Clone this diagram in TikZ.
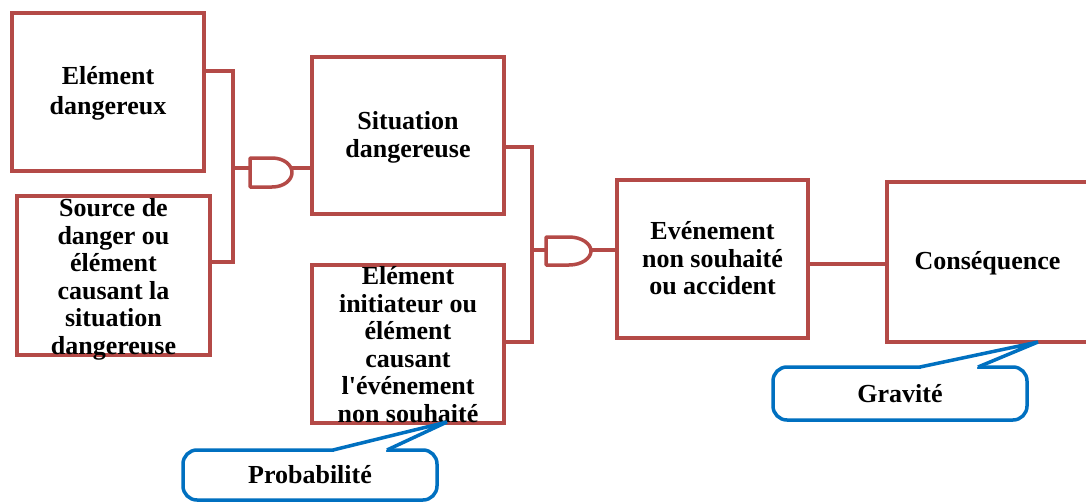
\documentclass[tikz,border=0pt]{standalone}
\usepackage{fontspec}
\setmainfont{Liberation Serif}[Ligatures=TeXOff]
\definecolor{boxred}{RGB}{180,74,71}
\definecolor{callblue}{RGB}{0,112,192}
\begin{document}
\begin{tikzpicture}[x=1pt,y=-1pt,
  box/.style={draw=boxred, line width=4pt, fill=white, inner sep=0pt},
  txt/.style={inner sep=0pt, align=center, text=black, font=\bfseries\fontsize{26}{27.5}\selectfont},
  conn/.style={draw=boxred, line width=3.5pt},
  gate/.style={draw=boxred, line width=3.5pt, fill=white, line join=round},
  callbox/.style={draw=callblue, line width=3.5pt, fill=white, rounded corners=14pt, inner sep=0pt, text=black, font=\bfseries\fontsize{26}{27.5}\selectfont},
  wedge/.style={draw=callblue, line width=3.5pt, line join=miter}]
\useasboundingbox (0,0) rectangle (1086,503);
\clip (0,0) rectangle (1086,503);
\fill[white] (0,0) rectangle (1086,503);
% boxes
\node[box, minimum width=192pt, minimum height=158pt] (b1) at (108,92) {};
\node[txt, font=\bfseries\fontsize{26}{30}\selectfont] (t1) at (108,93.5) {Elément\\dangereux};
\node[box, minimum width=193pt, minimum height=159pt] (b2) at (113.5,275.5) {};
\node[txt] (t2) at (113.5,279.5) {Source de\\danger ou\\élément\\causant la\\situation\\dangereuse};
\node[box, minimum width=192pt, minimum height=157pt] (b3) at (408,135.5) {};
\node[txt] (t3) at (408,137.5) {Situation\\dangereuse};
\node[box, minimum width=192pt, minimum height=158pt] (b4) at (408,344) {};
\node[txt] (t4) at (408,344.5) {Elément\\initiateur ou\\élément\\causant\\l'événement\\non souhaité};
\node[box, minimum width=191pt, minimum height=158pt] (b5) at (712.5,259) {};
\node[txt] (t5) at (712.5,258.5) {Evénement\\non souhaité\\ou accident};
\node[box, minimum width=205pt, minimum height=160pt] (b6) at (989.5,262) {};
\node[txt] (t6) at (987.5,263) {Conséquence};
% gate 1
\coordinate (g1in) at (250,168);
\coordinate (g1out) at (291,168);
\draw[gate] (250,158) -- (272,158) .. controls (284,158) and (292,165) .. (292,172.5)
  .. controls (292,180) and (284,187) .. (272,187) -- (250,187) -- cycle;
\coordinate (j1a) at (233,71);
\coordinate (j1b) at (233,262);
\draw[conn] (b1.east |- j1a) -- (j1a) -- (j1b) -- (b2.east |- j1b);
\draw[conn] (j1a |- g1in) -- (g1in);
\draw[conn] (g1out) -- (b3.west |- g1out);
% gate 2
\coordinate (g2in) at (546,250);
\coordinate (g2out) at (591,250);
\draw[gate] (546,237) -- (569,237) .. controls (582,237) and (591,244) .. (591,251)
  .. controls (591,258) and (582,265) .. (569,265) -- (546,265) -- cycle;
\coordinate (j2a) at (532,147);
\coordinate (j2b) at (532,342);
\draw[conn] (b3.east |- j2a) -- (j2a) -- (j2b) -- (b4.east |- j2b);
\draw[conn] (j2a |- g2in) -- (g2in);
\draw[conn] (g2out) -- (b5.west |- g2out);
% box5 to box6
\coordinate (c56) at (850,264);
\draw[conn] (b5.east |- c56) -- (b6.west |- c56);
% callouts
\node[callbox, minimum width=254pt, minimum height=50pt] (prob) at (310,475) {Probabilité};
\coordinate (ptip) at (447,422);
\fill[white] (334,452.5) -- (334,450) -- (ptip) -- (386,450) -- (386,452.5) -- cycle;
\draw[wedge] (333,450) -- (ptip) -- (387,450);
\node[callbox, minimum width=254pt, minimum height=53pt] (grav) at (900,393.5) {Gravité};
\coordinate (gtip) at (1038,342);
\fill[white] (921,369.5) -- (921,367) -- (gtip) -- (977,367) -- (977,369.5) -- cycle;
\draw[wedge] (920,367) -- (gtip) -- (978,367);
\end{tikzpicture}
\end{document}
